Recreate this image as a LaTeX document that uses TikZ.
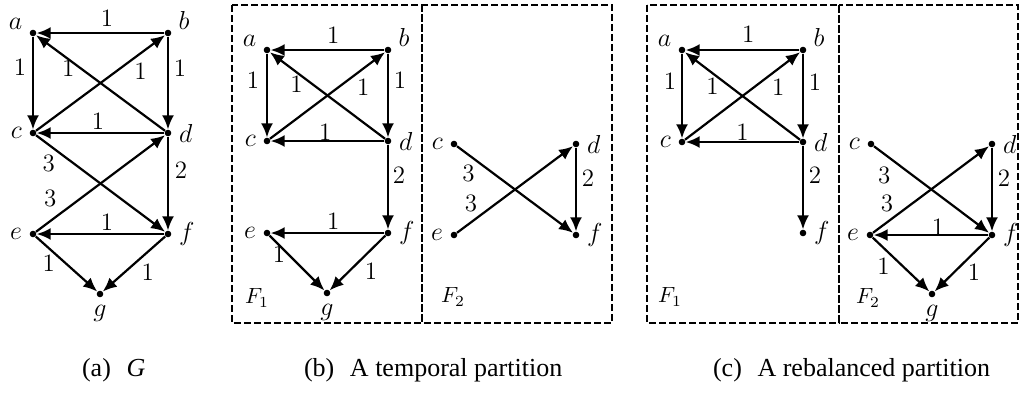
\RequirePackage{fix-cm}
\documentclass[tikz,border=0pt]{standalone}
\usepackage{fontspec}
\newfontfamily\capfont{Liberation Serif}
\usetikzlibrary{arrows.meta}

\begin{document}
\begin{tikzpicture}[
    x=0.5pt, y=-0.5pt,
    vtx/.style={circle, fill=black, inner sep=0pt, minimum size=3.3pt},
    edg/.style={line width=1.1pt, -{Latex[length=7pt, width=6pt]}},
    wt/.style={font=\fontsize{12.5}{14}\selectfont, inner sep=0pt},
    part/.style={line width=1pt, dash pattern=on 3.3pt off 1.7pt},
    flab/.style={font=\fontsize{11}{13}\selectfont},
    captxt/.style={font=\capfont\fontsize{13}{15}\selectfont, anchor=base west},
    every label/.style={font=\fontsize{13}{15}\selectfont, inner sep=0pt},
    label distance=3.5pt,
]
\useasboundingbox (0,0) rectangle (1019,392);

% (a) the graph G
\foreach \n/\x/\y/\ang in {a/33/33/165, b/168/33/15, c/33/133/180, d/168/133/0,
                          e/33/234/180, f/168/234/0, g/100/294/270}
    \node[vtx, label=\ang:$\n$] (G\n) at (\x,\y) {};
\foreach \s/\t/\p/\dx/\dy/\w in {b/a/.45/0/-15/1, a/c/.33/-13/0/1, d/a/.75/0/9/1,
        c/b/.81/0/18/1, b/d/.34/12/0/1, d/c/.52/0/-12/1, c/f/.1/0/19/3,
        e/d/.11/0/-23/3, d/f/.36/13/0/2, f/e/.45/0/-12/1, e/g/.21/0/15/1,
        f/g/.28/0/20/1}
    \draw[edg] (G\s) -- node[wt, pos=\p, shift={(\dx,\dy)}] {\w} (G\t);

% (b) temporal partition, F1
\draw[part] (232,5) rectangle (422,323);
\node[flab] (T1lab) at (257,298) {$F_1$};
\foreach \n/\x/\y/\ang in {a/267/50/165, b/388/50/15, c/267/141/180, d/388/141/0,
                          e/267/233/180, f/388/233/0, g/327/293/270}
    \node[vtx, label=\ang:$\n$] (T1\n) at (\x,\y) {};
\foreach \s/\t/\p/\dx/\dy/\w in {b/a/.45/0/-15/1, a/c/.32/-14/0/1, d/a/.77/0/12/1,
        c/b/.81/0/19/1, b/d/.32/12/0/1, d/c/.52/0/-9/1, d/f/.36/11/0/2,
        f/e/.45/0/-12/1, e/g/.17/0/9/1, f/g/.26/0/21/1}
    \draw[edg] (T1\s) -- node[wt, pos=\p, shift={(\dx,\dy)}] {\w} (T1\t);

% (b) temporal partition, F2
\draw[part] (422,5) rectangle (612,323);
\node[flab] (T2lab) at (453,297) {$F_2$};
\foreach \n/\x/\y/\ang in {c/454/144/180, d/576/144/0, e/454/235/180, f/576/235/0}
    \node[vtx, label=\ang:$\n$] (T2\n) at (\x,\y) {};
\foreach \s/\t/\p/\dx/\dy/\w in {c/f/.1/0/19/3, e/d/.12/0/-19/3, d/f/.37/12/0/2}
    \draw[edg] (T2\s) -- node[wt, pos=\p, shift={(\dx,\dy)}] {\w} (T2\t);

% (c) rebalanced partition, F1
\draw[part] (647,5) rectangle (839,323);
\node[flab] (R1lab) at (670,297) {$F_1$};
\foreach \n/\x/\y/\ang in {a/682/50/165, b/803/50/15, c/682/142/180, d/803/142/0,
                          f/803/233/0}
    \node[vtx, label=\ang:$\n$] (R1\n) at (\x,\y) {};
\foreach \s/\t/\p/\dx/\dy/\w in {b/a/.45/0/-16/1, a/c/.32/-12/0/1, d/a/.76/0/13/1,
        c/b/.81/0/18/1, b/d/.34/12/0/1, d/c/.5/0/-10/1, d/f/.35/12/0/2}
    \draw[edg] (R1\s) -- node[wt, pos=\p, shift={(\dx,\dy)}] {\w} (R1\t);

% (c) rebalanced partition, F2
\draw[part] (839,5) rectangle (1018,323);
\node[flab] (R2lab) at (868,298) {$F_2$};
\foreach \n/\x/\y/\ang in {c/871/144/180, d/992/144/0, e/870/235/180, f/992/235/0,
                          g/932/294/270}
    \node[vtx, label=\ang:$\n$] (R2\n) at (\x,\y) {};
\foreach \s/\t/\p/\dx/\dy/\w in {c/f/.09/0/21/3, e/d/.12/0/-19/3, d/f/.37/12/0/2,
        f/e/.44/0/-8/1, e/g/.19/0/18/1, f/g/.28/0/19.5/1}
    \draw[edg] (R2\s) -- node[wt, pos=\p, shift={(\dx,\dy)}] {\w} (R2\t);

% captions
\node[captxt] (capA) at (75,376) {(a)\hspace{.6em}\textit{G}};
\node[captxt] (capB) at (297,376) {(b)\hspace{.6em}A temporal partition};
\node[captxt] (capC) at (706,376) {(c)\hspace{.6em}A rebalanced partition};
\end{tikzpicture}
\end{document}
